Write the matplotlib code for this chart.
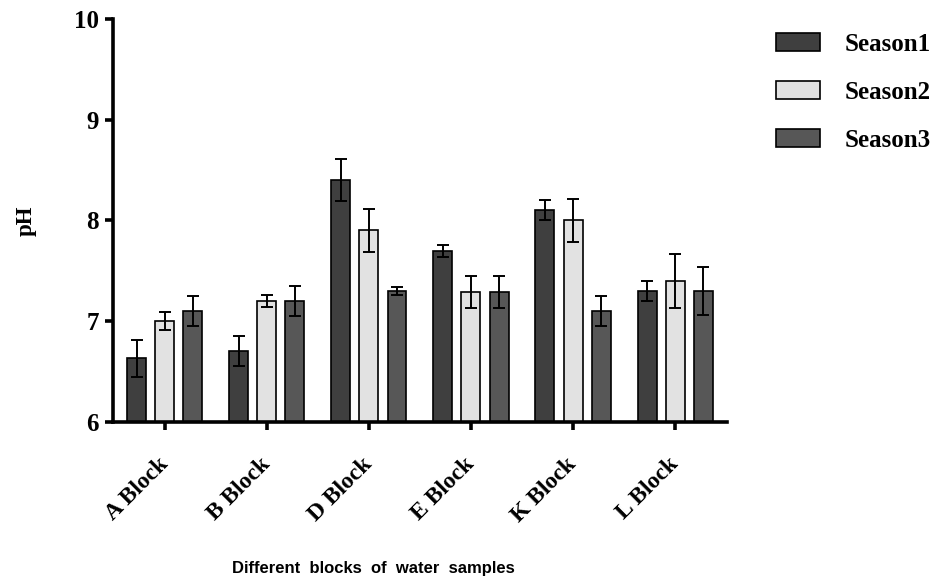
import matplotlib
matplotlib.use("Agg")
import matplotlib.pyplot as plt
import matplotlib.transforms as mtransforms
import numpy as np

blocks = ["A Block", "B Block", "D Block", "E Block", "K Block", "L Block"]
season_labels = ["Season1", "Season2", "Season3"]

season1 = [6.63, 6.70, 8.40, 7.70, 8.10, 7.30]
season1_err = [0.18, 0.15, 0.21, 0.06, 0.10, 0.10]
season2 = [7.00, 7.20, 7.90, 7.29, 8.00, 7.40]
season2_err = [0.09, 0.06, 0.21, 0.16, 0.21, 0.27]
season3 = [7.10, 7.20, 7.30, 7.29, 7.10, 7.30]
season3_err = [0.15, 0.15, 0.04, 0.16, 0.15, 0.24]

colors = ["#3f3f3f", "#e2e2e2", "#575757"]

serif_bold = dict(family="Liberation Serif", weight="bold")

fig = plt.figure(figsize=(9.48, 5.86), dpi=100)
ax = fig.add_axes([0.119, 0.280, 0.648, 0.688])

x = np.arange(len(blocks))
width = 0.186
offset = 0.275
series = [(season1, season1_err), (season2, season2_err), (season3, season3_err)]
handles = []
for i, (vals, errs) in enumerate(series):
    b = ax.bar(
        x + (i - 1) * offset,
        np.array(vals) - 6,
        width,
        bottom=6,
        color=colors[i],
        edgecolor="black",
        linewidth=1.2,
        label=season_labels[i],
        zorder=2,
    )
    ax.errorbar(
        x + (i - 1) * offset,
        vals,
        yerr=errs,
        fmt="none",
        ecolor="black",
        elinewidth=1.4,
        capsize=4.5,
        capthick=1.4,
        zorder=3,
    )
    handles.append(b)

ax.set_xlim(-0.51, 5.51)
ax.set_ylim(6, 10)
ax.set_yticks([6, 7, 8, 9, 10])
ax.set_xticks(x)
ax.set_xticklabels(blocks, rotation=45, ha="right", va="center",
                   rotation_mode="anchor", fontsize=17, **serif_bold)
shift = mtransforms.ScaledTranslation(10 / 100, 0, fig.dpi_scale_trans)
for lab in ax.get_xticklabels():
    lab.set_transform(lab.get_transform() + shift)
for lab in ax.get_yticklabels():
    lab.set_fontsize(18)
    lab.set_family("Liberation Serif")
    lab.set_weight("bold")

for s in ["top", "right"]:
    ax.spines[s].set_visible(False)
for s in ["left", "bottom"]:
    ax.spines[s].set_linewidth(2.6)
ax.tick_params(axis="both", width=2.6, length=6)
ax.tick_params(axis="y", pad=4)
ax.tick_params(axis="x", pad=22)

ax.set_ylabel("pH", fontsize=16.5, labelpad=27, **serif_bold)

fig.text(373 / 948, 1 - 568 / 586, "Different  blocks  of  water  samples",
         ha="center", va="center", fontsize=12, fontweight="bold",
         family="Liberation Sans")

fig.legend(
    handles=handles,
    labels=season_labels,
    loc="upper left",
    bbox_to_anchor=(776 / 948, 1 - 33 / 586),
    frameon=False,
    borderpad=0,
    borderaxespad=0,
    prop=dict(family="Liberation Serif", weight="bold", size=18),
    handlelength=1.76,
    handleheight=0.72,
    handletextpad=1.0,
    labelspacing=1.0,
)

fig.savefig("out.png", dpi=100)
